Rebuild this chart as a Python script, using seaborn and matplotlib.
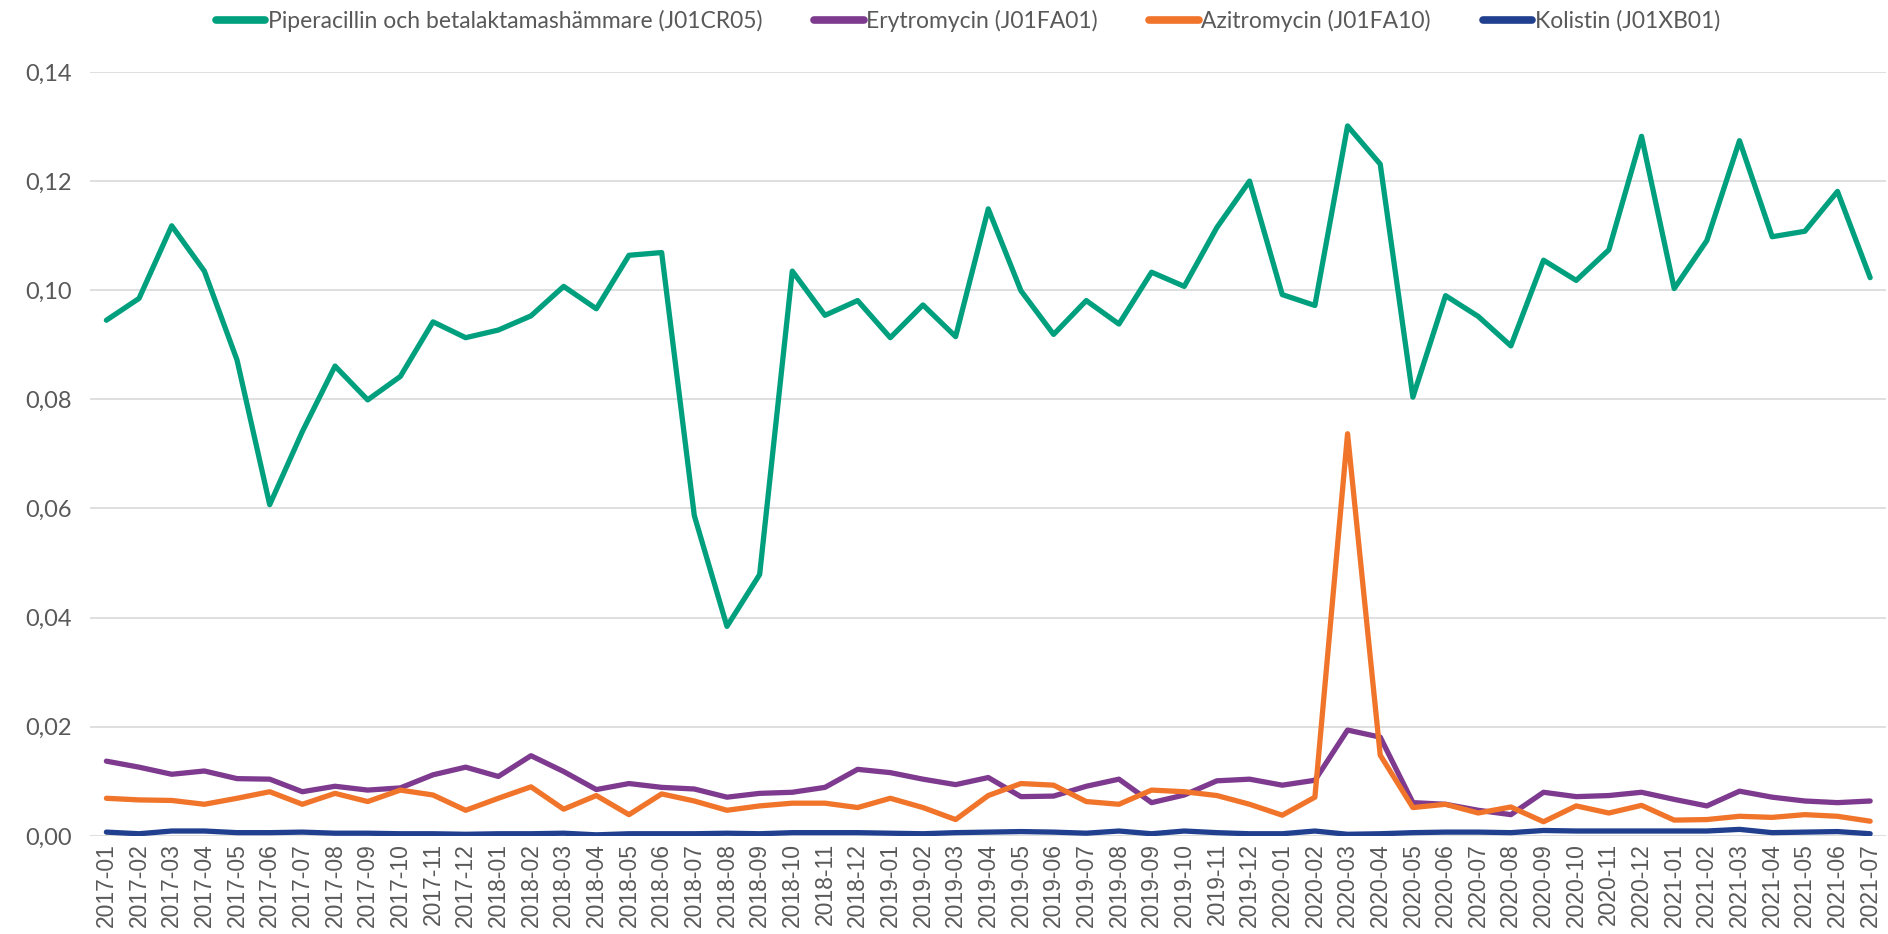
import pandas as pd
import seaborn as sns
import matplotlib.pyplot as plt
from matplotlib.ticker import FuncFormatter

# months 2017-01 .. 2021-07
months = [f"{y}-{m:02d}" for y in range(2017, 2022) for m in range(1, 13)][:55]

piperacillin = [
    0.0945, 0.0985, 0.1118, 0.1035, 0.0872, 0.0607, 0.0741, 0.0861, 0.0799, 0.0842,
    0.0942, 0.0913, 0.0927, 0.0953, 0.1007, 0.0966, 0.1064, 0.1069, 0.0587, 0.0384,
    0.0479, 0.1035, 0.0954, 0.0981, 0.0913, 0.0973, 0.0915, 0.1149, 0.0999, 0.0919,
    0.0981, 0.0938, 0.1033, 0.1007, 0.1115, 0.1200, 0.0992, 0.0972, 0.1301, 0.1231,
    0.0804, 0.0990, 0.0952, 0.0898, 0.1055, 0.1018, 0.1074, 0.1282, 0.1003, 0.1091,
    0.1274, 0.1098, 0.1108, 0.1181, 0.1023,
]
erytromycin = [
    0.0137, 0.0126, 0.0113, 0.0119, 0.0105, 0.0104, 0.0081, 0.0091, 0.0084, 0.0088,
    0.0112, 0.0126, 0.0109, 0.0147, 0.0118, 0.0085, 0.0096, 0.0089, 0.0086, 0.0071,
    0.0078, 0.0080, 0.0089, 0.0122, 0.0116, 0.0104, 0.0094, 0.0107, 0.0072, 0.0073,
    0.0091, 0.0104, 0.0061, 0.0075, 0.0101, 0.0104, 0.0093, 0.0102, 0.0194, 0.0181,
    0.0061, 0.0058, 0.0047, 0.0039, 0.0080, 0.0072, 0.0074, 0.0080, 0.0067, 0.0055,
    0.0082, 0.0071, 0.0064, 0.0061, 0.0064,
]
azitromycin = [
    0.0069, 0.0066, 0.0065, 0.0058, 0.0069, 0.0081, 0.0058, 0.0078, 0.0063, 0.0084,
    0.0075, 0.0047, 0.0069, 0.0090, 0.0049, 0.0074, 0.0039, 0.0077, 0.0064, 0.0047,
    0.0055, 0.0060, 0.0060, 0.0052, 0.0069, 0.0052, 0.0030, 0.0074, 0.0096, 0.0093,
    0.0063, 0.0058, 0.0084, 0.0081, 0.0074, 0.0058, 0.0038, 0.0071, 0.0737, 0.0148,
    0.0052, 0.0058, 0.0042, 0.0053, 0.0026, 0.0055, 0.0042, 0.0056, 0.0029, 0.0030,
    0.0036, 0.0034, 0.0039, 0.0036, 0.0027,
]
kolistin = [
    0.0007, 0.0004, 0.0009, 0.0009, 0.0006, 0.0006, 0.0007, 0.0005, 0.0005, 0.0004,
    0.0004, 0.0003, 0.0004, 0.0004, 0.0005, 0.0002, 0.0004, 0.0004, 0.0004, 0.0005,
    0.0004, 0.0006, 0.0006, 0.0006, 0.0005, 0.0004, 0.0006, 0.0007, 0.0008, 0.0007,
    0.0005, 0.0009, 0.0004, 0.0009, 0.0006, 0.0004, 0.0004, 0.0009, 0.0003, 0.0004,
    0.0006, 0.0007, 0.0007, 0.0006, 0.0010, 0.0009, 0.0009, 0.0009, 0.0009, 0.0009,
    0.0012, 0.0006, 0.0007, 0.0008, 0.0004,
]

series_names = [
    "Piperacillin och betalaktamashämmare (J01CR05)",
    "Erytromycin (J01FA01)",
    "Azitromycin (J01FA10)",
    "Kolistin (J01XB01)",
]
colors = ["#00A07E", "#7D3A8E", "#F0742A", "#203F8F"]

df = pd.DataFrame({"month": months})
for name, vals in zip(series_names, [piperacillin, erytromycin, azitromycin, kolistin]):
    df[name] = vals
long_df = df.melt(id_vars="month", var_name="serie", value_name="value")

sns.set_style("white")
plt.rcParams["font.family"] = ["Lato", "DejaVu Sans"]

fig = plt.figure(figsize=(18.88, 9.34), dpi=100)
ax = fig.add_axes([0.0477, 0.105, 0.9515, 0.818])

sns.lineplot(
    data=long_df, x="month", y="value", hue="serie", hue_order=series_names,
    palette=colors, linewidth=3.8, ax=ax, legend=True, sort=False,
)
for line in ax.lines:
    line.set_solid_joinstyle("round")
    line.set_solid_capstyle("round")

ax.set_xlim(-0.5, len(months) - 0.5)
ax.set_ylim(0, 0.14)
ax.set_yticks([0.00, 0.02, 0.04, 0.06, 0.08, 0.10, 0.12, 0.14])
ax.yaxis.set_major_formatter(FuncFormatter(lambda v, _: f"{v:.2f}".replace(".", ",")))
ax.grid(axis="y", color="#D9D9D9", linewidth=1.2)
ax.set_axisbelow(True)
for s in ax.spines.values():
    s.set_visible(False)
ax.set_xlabel("")
ax.set_ylabel("")
ax.tick_params(axis="y", length=0, pad=13, labelsize=17, labelcolor="#595959")
ax.tick_params(axis="x", length=0, pad=5, labelsize=16.5, labelcolor="#595959")
for lab in ax.get_xticklabels():
    lab.set_rotation(90)
    lab.set_family(["Liberation Sans"])

handles, labels = ax.get_legend_handles_labels()
ax.get_legend().remove()
leg = fig.legend(
    handles, labels, loc="center", bbox_to_anchor=(0.5127, 0.978), ncol=4,
    frameon=False, fontsize=16.5, handlelength=2.15, handletextpad=0.12,
    columnspacing=2.25, labelcolor="#595959",
)
for h in leg.legend_handles:
    h.set_linewidth(5.5)
    h.set_solid_capstyle("round")

fig.savefig("out.png", dpi=100)
